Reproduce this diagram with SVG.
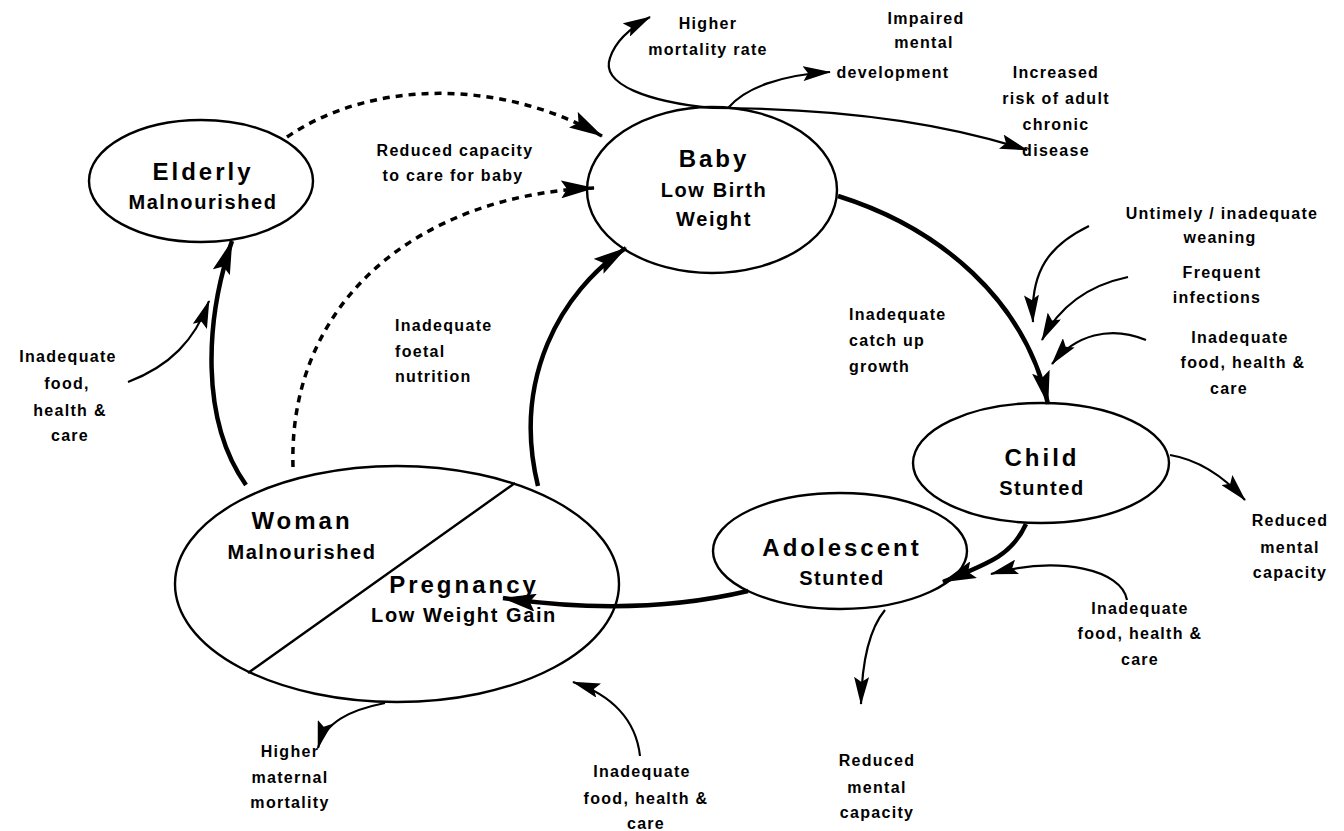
<svg xmlns="http://www.w3.org/2000/svg" width="1344" height="831" viewBox="0 0 1344 831">
  <defs>
    <marker id="headBig" markerUnits="userSpaceOnUse" viewBox="0 0 34 18" markerWidth="34" markerHeight="18" refX="33" refY="9" orient="auto">
      <path d="M0,0 L34,9 L0,18 L6,9 Z" fill="#000"/>
    </marker>
    <marker id="headSmall" markerUnits="userSpaceOnUse" viewBox="0 0 28 15" markerWidth="28" markerHeight="15" refX="27" refY="7.5" orient="auto">
      <path d="M0,0 L28,7.5 L0,15 L5,7.5 Z" fill="#000"/>
    </marker>
    <style>
      .node ellipse { fill: #fff; stroke: #000; stroke-width: 2.4; }
      .title { font-family: "Liberation Sans", Arial, sans-serif; font-weight: bold; font-size: 24px; letter-spacing: 3px; text-anchor: middle; fill: #000; }
      .sub { font-family: "Liberation Sans", Arial, sans-serif; font-weight: bold; font-size: 20px; letter-spacing: 1.6px; text-anchor: middle; fill: #000; }
      .lbl { font-family: "Liberation Sans", Arial, sans-serif; font-weight: bold; font-size: 16px; letter-spacing: 1.3px; text-anchor: middle; fill: #000; }
      .lft { text-anchor: start; }
      .thick { fill: none; stroke: #000; stroke-width: 4.5; marker-end: url(#headBig); }
      .thin { fill: none; stroke: #000; stroke-width: 2.2; marker-end: url(#headSmall); }
      .dash { fill: none; stroke: #000; stroke-width: 3.5; stroke-dasharray: 7 6; marker-end: url(#headBig); }
    </style>
  </defs>
  <rect width="1344" height="831" fill="#fff"/>

  <!-- nodes -->
  <g id="elderly" class="node">
    <ellipse cx="201" cy="181" rx="112" ry="61"/>
    <text class="title" x="203" y="180">Elderly</text>
    <text class="sub" x="203" y="209">Malnourished</text>
  </g>
  <g id="baby" class="node">
    <ellipse cx="712" cy="190" rx="125" ry="83"/>
    <text class="title" x="714" y="167">Baby</text>
    <text class="sub" x="714" y="197">Low Birth</text>
    <text class="sub" x="714" y="226">Weight</text>
  </g>
  <g id="child" class="node">
    <ellipse cx="1041" cy="463" rx="128" ry="60"/>
    <text class="title" x="1042" y="466">Child</text>
    <text class="sub" x="1042" y="495">Stunted</text>
  </g>
  <g id="adolescent" class="node">
    <ellipse cx="840" cy="551" rx="127" ry="58"/>
    <text class="title" x="842" y="556">Adolescent</text>
    <text class="sub" x="842" y="585">Stunted</text>
  </g>
  <g id="woman" class="node">
    <ellipse cx="397" cy="584" rx="222" ry="118"/>
    <line x1="248" y1="673" x2="515" y2="483" stroke="#000" stroke-width="2.4"/>
    <text class="title" x="302" y="529">Woman</text>
    <text class="sub" x="302" y="559">Malnourished</text>
    <text class="title" x="464" y="593">Pregnancy</text>
    <text class="sub" x="464" y="622">Low Weight Gain</text>
  </g>

  <!-- connectors -->
  <g id="connectors">
    <!-- main cycle -->
    <path class="thick" d="M838,196 C 940,228 1025,300 1048,404"/>
    <path class="thick" d="M1026,524 C 1012,555 990,563 943,582"/>
    <path class="thick" d="M748,591 C 680,607 600,612 503,598"/>
    <path class="thick" d="M538,486 C 512,380 560,292 626,248"/>
    <path class="thick" d="M246,485 C 200,420 205,320 232,241"/>
    <!-- dashed links -->
    <path class="dash" d="M293,467 C 288,300 420,195 594,188"/>
    <path class="dash" d="M287,137 C 370,80 500,78 602,136"/>
    <!-- consequences of low birth weight -->
    <path class="thin" d="M712,108 C 650,102 600,85 610,58 C 615,42 630,28 650,17"/>
    <path class="thin" d="M728,108 C 745,88 780,75 830,72"/>
    <path class="thin" d="M712,108 C 850,108 950,125 1027,150"/>
    <!-- inputs to child -->
    <path class="thin" d="M1089,226 C 1050,245 1030,270 1033,322"/>
    <path class="thin" d="M1128,277 C 1090,285 1060,305 1042,340"/>
    <path class="thin" d="M1146,340 C 1110,325 1075,335 1052,364"/>
    <!-- child outcome -->
    <path class="thin" d="M1170,455 C 1200,460 1225,478 1245,500"/>
    <!-- adolescent input and outcome -->
    <path class="thin" d="M1127,600 C 1122,570 1060,555 991,574"/>
    <path class="thin" d="M885,610 C 870,628 862,660 861,704"/>
    <!-- woman outcome and input -->
    <path class="thin" d="M385,703 C 350,710 325,722 318,748"/>
    <path class="thin" d="M640,756 C 636,720 612,695 573,682"/>
    <!-- elderly input -->
    <path class="thin" d="M128,382 C 170,366 195,340 209,301"/>
  </g>

  <!-- labels -->
  <g id="labels">
    <text class="lbl" x="708" y="29">Higher</text>
    <text class="lbl" x="708" y="55">mortality rate</text>
    <text class="lbl" x="926" y="24">Impaired</text>
    <text class="lbl" x="924" y="48">mental</text>
    <text class="lbl" x="893" y="78">development</text>
    <text class="lbl" x="1056" y="78">Increased</text>
    <text class="lbl" x="1056" y="104">risk of adult</text>
    <text class="lbl" x="1056" y="130">chronic</text>
    <text class="lbl" x="1056" y="156">disease</text>
    <text class="lbl" x="455" y="156">Reduced capacity</text>
    <text class="lbl" x="453" y="181">to care for baby</text>
    <text class="lbl" x="1222" y="219">Untimely / inadequate</text>
    <text class="lbl" x="1220" y="243">weaning</text>
    <text class="lbl" x="1222" y="278">Frequent</text>
    <text class="lbl" x="1217" y="303">infections</text>
    <text class="lbl" x="1240" y="343">Inadequate</text>
    <text class="lbl" x="1243" y="368">food, health &amp;</text>
    <text class="lbl" x="1229" y="394">care</text>
    <text class="lbl lft" x="849" y="320">Inadequate</text>
    <text class="lbl lft" x="849" y="346">catch up</text>
    <text class="lbl lft" x="849" y="372">growth</text>
    <text class="lbl lft" x="395" y="331">Inadequate</text>
    <text class="lbl lft" x="395" y="357">foetal</text>
    <text class="lbl lft" x="395" y="382">nutrition</text>
    <text class="lbl" x="68" y="362">Inadequate</text>
    <text class="lbl" x="67" y="389">food,</text>
    <text class="lbl" x="70" y="416">health &amp;</text>
    <text class="lbl" x="70" y="441">care</text>
    <text class="lbl" x="1290" y="526">Reduced</text>
    <text class="lbl" x="1290" y="553">mental</text>
    <text class="lbl" x="1290" y="578">capacity</text>
    <text class="lbl" x="1140" y="614">Inadequate</text>
    <text class="lbl" x="1140" y="639">food, health &amp;</text>
    <text class="lbl" x="1140" y="665">care</text>
    <text class="lbl" x="290" y="757">Higher</text>
    <text class="lbl" x="290" y="783">maternal</text>
    <text class="lbl" x="290" y="808">mortality</text>
    <text class="lbl" x="642" y="777">Inadequate</text>
    <text class="lbl" x="646" y="804">food, health &amp;</text>
    <text class="lbl" x="646" y="829">care</text>
    <text class="lbl" x="877" y="766">Reduced</text>
    <text class="lbl" x="877" y="793">mental</text>
    <text class="lbl" x="877" y="818">capacity</text>
  </g>
</svg>
